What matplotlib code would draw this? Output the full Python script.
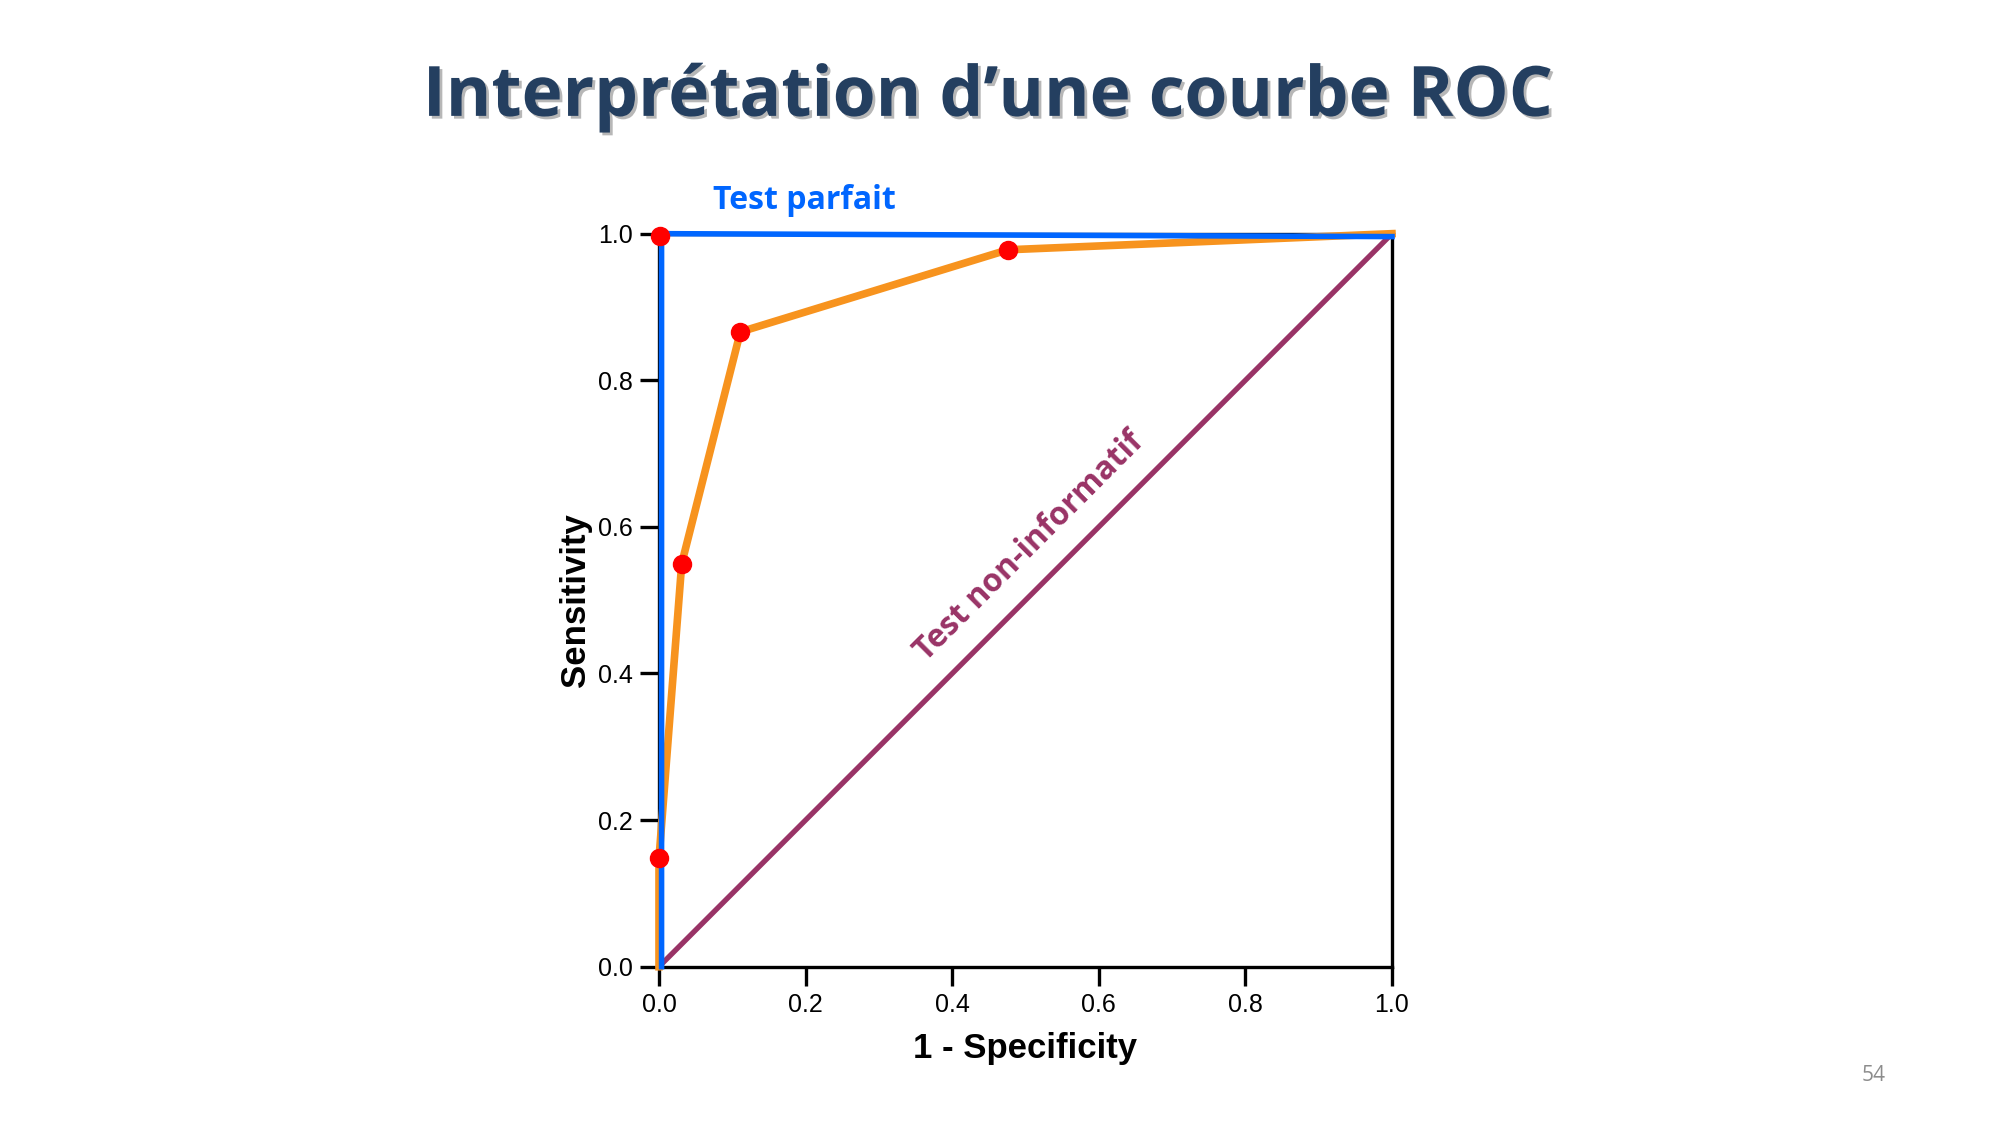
import numpy as np
import matplotlib
matplotlib.use("Agg")
import matplotlib.pyplot as plt
import matplotlib.patheffects as pe

# ROC data
roc_fpr = [0.0, 0.0, 0.031, 0.111, 0.476, 1.0]
roc_tpr = [0.0, 0.148, 0.55, 0.866, 0.978, 1.0]
point_fpr = [0.002, 0.0, 0.031, 0.111, 0.476]
point_tpr = [0.997, 0.148, 0.55, 0.866, 0.978]
perfect_fpr = [0.0035, 0.0035, 1.0]
perfect_tpr = [0.0, 1.0, 0.996]
chance = [0.0, 1.0]
ticks = [0.0, 0.2, 0.4, 0.6, 0.8, 1.0]
tick_labels = ["0.0", "0.2", "0.4", "0.6", "0.8", "1.0"]

axis_font = ["Liberation Sans Narrow", "Liberation Sans", "DejaVu Sans"]
slide_font = ["Open Sans", "DejaVu Sans"]

fig = plt.figure(figsize=(20, 11.25), dpi=100)
ax = fig.add_axes([0.3295, 0.1407, 0.3665, 0.6516])

ax.plot(chance, chance, color="#993366", lw=3.8, clip_on=False, zorder=2)
ax.plot(roc_fpr, roc_tpr, color="#F7931E", lw=5.5, clip_on=False, zorder=3,
        solid_joinstyle="round")
ax.plot(perfect_fpr, perfect_tpr, color="#0066FF", lw=4, clip_on=False, zorder=4)
ax.plot(point_fpr, point_tpr, "o", color="#FF0000", ms=13, clip_on=False, zorder=5)

ax.set_xlim(0, 1)
ax.set_ylim(0, 1)
ax.set_xticks(ticks)
ax.set_xticklabels(tick_labels)
ax.set_yticks(ticks)
ax.set_yticklabels(tick_labels)
for s in ax.spines.values():
    s.set_linewidth(2.4)
    s.set_color("black")
ax.tick_params(direction="out", length=14, width=2.4, labelsize=18, pad=5)
for lab in ax.get_xticklabels() + ax.get_yticklabels():
    lab.set_family(axis_font)

ax.set_xlabel("1 - Specificity", fontsize=25, fontweight="bold", family=axis_font, labelpad=11)
ax.set_ylabel("Sensitivity", fontsize=25, fontweight="bold", family=axis_font, labelpad=4)

ax.text(0.505, 0.573, "Test non-informatif", transform=ax.transAxes, rotation=45,
        ha="center", va="center", fontsize=23, fontweight="bold",
        color="#993366", family=slide_font, rotation_mode="anchor")
ax.text(0.199, 1.0455, "Test parfait", transform=ax.transAxes, ha="center", va="center",
        fontsize=23, fontweight="bold", color="#0066FF", family=slide_font)

fig.text(0.494, 0.913, "Interprétation d\u2019une courbe ROC", ha="center", va="center",
         fontsize=50, fontweight="bold", color="#243F60", family=slide_font,
         path_effects=[pe.withSimplePatchShadow(offset=(2, -2), shadow_rgbFace="#888888", alpha=0.6)])
fig.text(0.9368, 0.0443, "54", ha="center", va="center", fontsize=15,
         color="#8C8C8C", family=slide_font)

fig.savefig("out.png", dpi=100, facecolor="white")
